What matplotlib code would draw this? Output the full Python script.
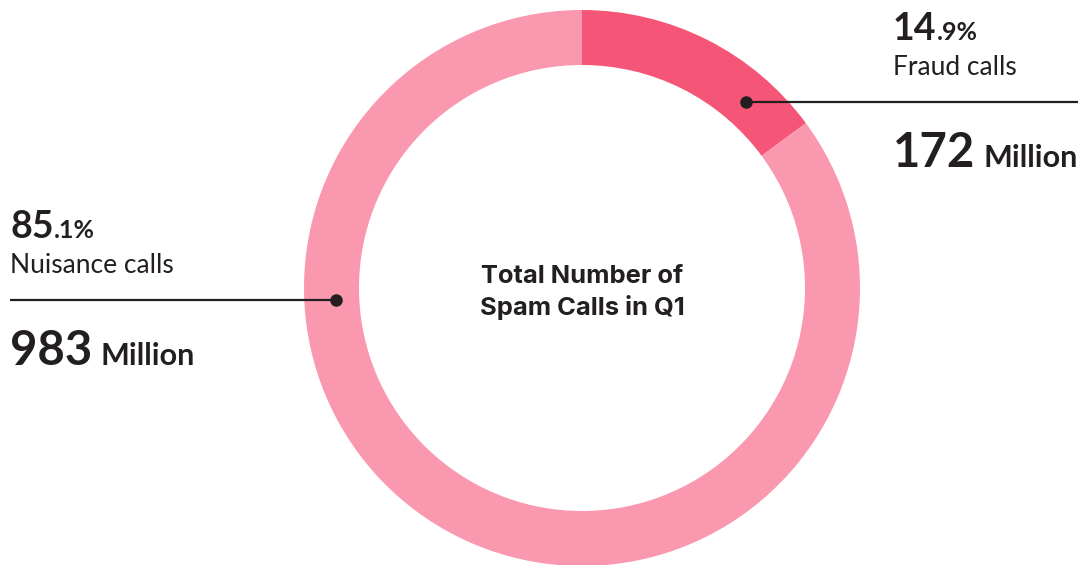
import matplotlib
matplotlib.use("Agg")
import matplotlib.pyplot as plt

categories = ["Fraud calls", "Nuisance calls"]
shares = [14.9, 85.1]
counts = ["172", "983"]
center_lines = ["Total Number of", "Spam Calls in Q1"]

COL_FRAUD = "#F55577"
COL_NUIS = "#F998AE"
DARK = "#231F20"
FONT = "Lato"

W, H = 1090, 565
fig = plt.figure(figsize=(W / 100, H / 100), dpi=100)
ax = fig.add_axes([0, 0, 1, 1])

def Y(py):
    return H - py

cx, cy = 582, Y(288)
ax.pie(shares, colors=[COL_FRAUD, COL_NUIS], startangle=90, counterclock=False,
       radius=278, center=(cx, cy), wedgeprops=dict(width=55, linewidth=0))
ax.set_xlim(0, W)
ax.set_ylim(0, H)
ax.set_aspect("equal")
ax.axis("off")

ax.text(cx, Y(283), center_lines[0], ha="center", va="baseline",
        fontsize=18.4, fontweight="bold", family="Inter", color=DARK)
ax.text(cx, Y(315), center_lines[1], ha="center", va="baseline",
        fontsize=18.4, fontweight="bold", family="Inter", color=DARK)

fig.canvas.draw()
renderer = fig.canvas.get_renderer()

def pct_label(x, ybase, pct):
    whole, frac = f"{pct:.1f}".split(".")
    t = ax.text(x, Y(ybase), whole, ha="left", va="baseline", fontsize=27,
                fontweight="bold", family=FONT, color=DARK)
    bb = t.get_window_extent(renderer)
    x2 = ax.transData.inverted().transform((bb.x1, bb.y0))[0]
    ax.text(x2, Y(ybase), "." + frac + "%", ha="left", va="baseline",
            fontsize=18, fontweight="bold", family=FONT, color=DARK)

def count_label(x, ybase, num):
    t = ax.text(x, Y(ybase), num, ha="left", va="baseline", fontsize=34,
                fontweight="bold", family=FONT, color=DARK)
    bb = t.get_window_extent(renderer)
    x2 = ax.transData.inverted().transform((bb.x1, bb.y0))[0]
    ax.text(x2 + 8, Y(ybase), "Million", ha="left", va="baseline",
            fontsize=22, fontweight="bold", family=FONT, color=DARK)

# Fraud (right)
pct_label(893, 40, shares[0])
ax.text(893, Y(75), categories[0], ha="left", va="baseline", fontsize=19,
        family=FONT, color=DARK)
ax.plot([746, 1078], [Y(102), Y(102)], color=DARK, lw=1.6, solid_capstyle="butt")
ax.plot([746], [Y(102)], "o", color=DARK, ms=8)
count_label(893, 167, counts[0])

# Nuisance (left)
pct_label(10, 238, shares[1])
ax.text(10, Y(273), categories[1], ha="left", va="baseline", fontsize=19,
        family=FONT, color=DARK)
ax.plot([10, 336], [Y(300), Y(300)], color=DARK, lw=1.6, solid_capstyle="butt")
ax.plot([336], [Y(300)], "o", color=DARK, ms=8)
count_label(10, 365, counts[1])

fig.savefig("out.png", dpi=100, facecolor="white")
